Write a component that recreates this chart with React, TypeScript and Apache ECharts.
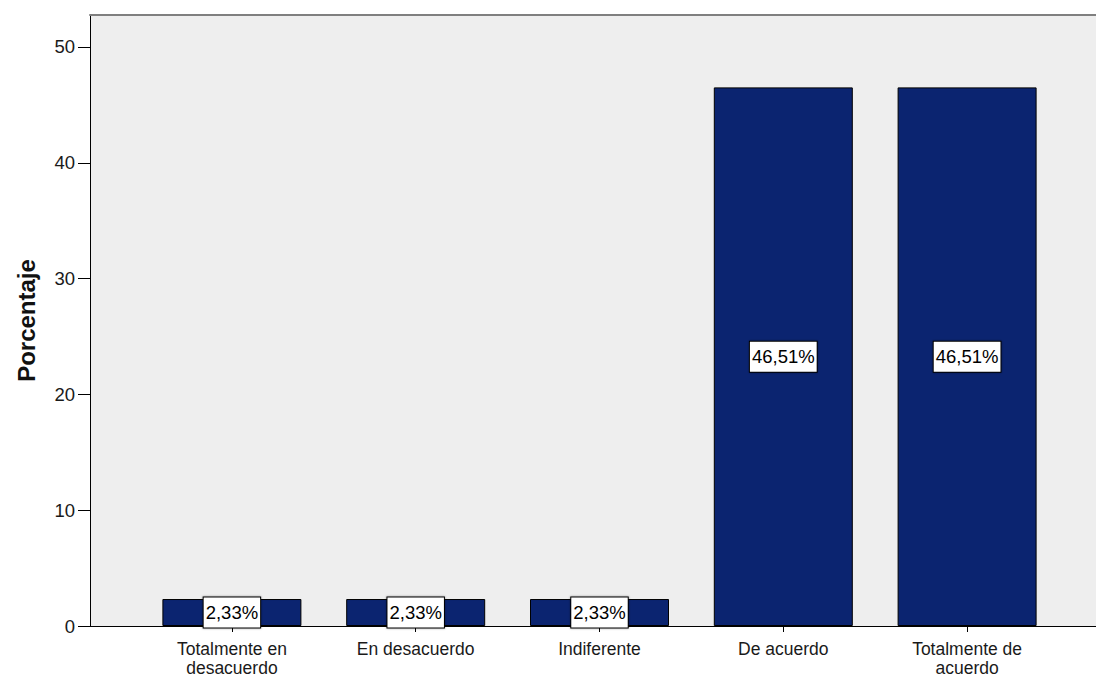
import React, { useEffect, useRef } from "react";
import * as echarts from "echarts";

const categories = ["Totalmente en\ndesacuerdo", "En desacuerdo", "Indiferente", "De acuerdo", "Totalmente de\nacuerdo"];
const percentages = [2.33, 2.33, 2.33, 46.51, 46.51];
const yTicks = { min: 0, max: 52.76, interval: 10 };
const yTitle = "Porcentaje";

export default function App() {
  const ref = useRef<HTMLDivElement>(null);
  useEffect(() => {
    if (!ref.current) return;
    const chart = echarts.init(ref.current, undefined, { renderer: "svg" });
    const font = "'Liberation Sans', Arial, sans-serif";
    chart.setOption({
      animation: false,
      backgroundColor: "#ffffff",
      textStyle: { fontFamily: font },
      grid: [
        { left: 90, right: 0, top: 15, bottom: 51, show: true, backgroundColor: "#eeeeee", borderWidth: 0, containLabel: false, outerBoundsMode: "none" },
        { left: 140, width: 919, top: 15, bottom: 51, containLabel: false, outerBoundsMode: "none" },
      ],
      xAxis: [
        {
          gridIndex: 0, type: "value", min: 0, max: 1, position: "bottom",
          axisLine: { show: true, lineStyle: { color: "#000", width: 1 } },
          axisTick: { show: false }, axisLabel: { show: false }, splitLine: { show: false },
        },
        {
          gridIndex: 0, type: "value", min: 0, max: 1, position: "top",
          axisLine: { show: true, lineStyle: { color: "#7f7f7f", width: 2 } },
          axisTick: { show: false }, axisLabel: { show: false }, splitLine: { show: false },
        },
        {
          gridIndex: 1, type: "category", data: categories,
          axisLine: { show: false },
          axisTick: { show: true, alignWithLabel: true, length: 6, lineStyle: { color: "#000" } },
          axisLabel: { color: "#1a1a1a", fontSize: 17.5, lineHeight: 18.5, margin: 14, fontFamily: font },
        },
      ],
      yAxis: [
        {
          gridIndex: 0, type: "value", min: yTicks.min, max: yTicks.max, interval: yTicks.interval,
          name: yTitle, nameLocation: "middle", nameGap: 52,
          nameTextStyle: { fontSize: 24, fontWeight: "bold", color: "#111", fontFamily: font },
          axisLine: { show: true, lineStyle: { color: "#000", width: 1 } },
          axisTick: { show: true, length: 12, lineStyle: { color: "#000" } },
          axisLabel: { color: "#1a1a1a", fontSize: 18.5, margin: 15, showMaxLabel: false, fontFamily: font },
          splitLine: { show: false },
        },
        {
          gridIndex: 1, type: "value", min: yTicks.min, max: yTicks.max, interval: yTicks.interval,
          show: false,
        },
      ],
      series: [
        {
          type: "bar", xAxisIndex: 2, yAxisIndex: 1,
          data: percentages, barWidth: 139,
          itemStyle: { color: "#0b2470", borderColor: "#000", borderWidth: 1 },
          label: {
            show: true, position: "inside",
            formatter: (p: any) => p.value.toFixed(2).replace(".", ",") + "%",
            color: "#000", fontSize: 18.5, fontFamily: font,
            backgroundColor: "#fff", borderColor: "#000", borderWidth: 1,
            padding: [6, 2, 5, 2],
            shadowColor: "rgba(0,0,0,0.4)", shadowBlur: 2,
          },
        },
      ],
    });
    return () => chart.dispose();
  }, []);
  return <div ref={ref} style={{ position: "fixed", left: 0, top: 0, width: 1096, height: 677 }} />;
}
